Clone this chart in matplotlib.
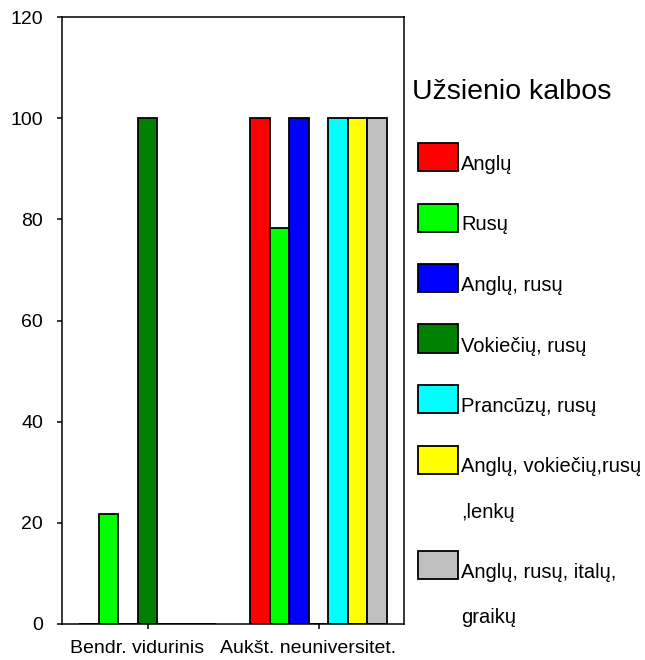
import matplotlib
matplotlib.use("Agg")
import matplotlib.pyplot as plt
import matplotlib.transforms as mtransforms
from matplotlib.patches import Rectangle
import numpy as np

plt.rcParams["font.family"] = ["Liberation Sans", "DejaVu Sans"]

# data
categories = ["Bendr. vidurinis", "Aukšt. neuniversitet."]
series_names = [
    "Anglų",
    "Rusų",
    "Anglų, rusų",
    "Vokiečių, rusų",
    "Prancūzų, rusų",
    "Anglų, vokiečių,rusų\n,lenkų",
    "Anglų, rusų, italų,\ngraikų",
]
series_values = [
    [0, 100],
    [21.7, 78.3],
    [0, 100],
    [100, 0],
    [0, 100],
    [0, 100],
    [0, 100],
]
series_colors = ["#FF0000", "#00FF00", "#0000FF", "#008000",
                 "#00FFFF", "#FFFF00", "#C0C0C0"]
y_ticks = [0, 20, 40, 60, 80, 100, 120]
legend_title = "Užsienio kalbos"

W, H = 645, 660
fig = plt.figure(figsize=(W / 100, H / 100), dpi=100)
ax = fig.add_axes([62 / W, 1 - 624 / H, (404 - 62) / W, (624 - 17) / H])

n = len(series_names)
group_w = 0.8
bw = group_w / n
x = np.arange(len(categories))
for i, (vals, col) in enumerate(zip(series_values, series_colors)):
    ax.bar(x + (i - (n - 1) / 2) * bw, vals, bw, color=col,
           edgecolor="black", linewidth=1.3)

ax.set_xlim(-0.5, len(categories) - 0.5)
ax.set_ylim(0, 120)
ax.set_yticks(y_ticks)
ax.set_xticks(x)
ax.set_xticklabels(categories)
ax.tick_params(axis="both", labelsize=14, length=3.6, width=1.1, direction="out")
ax.tick_params(axis="y", pad=10)
ax.tick_params(axis="x", pad=8)
# the original labels sit slightly left of their tick
shift = mtransforms.ScaledTranslation(-10 / 100, 0, fig.dpi_scale_trans)
for lbl in ax.get_xticklabels():
    lbl.set_transform(lbl.get_transform() + shift)
for sp in ax.spines.values():
    sp.set_linewidth(1.1)

# legend drawn by hand, outside the axes on the right
fig.text(412 / W, 1 - 99 / H, legend_title, fontsize=20.5, ha="left", va="baseline")
top = 143
line_gap = 45
for name, col in zip(series_names, series_colors):
    lines = name.split("\n")
    fig.patches.append(Rectangle((418 / W, 1 - (top + 28) / H), 40 / W, 28 / H,
                                 transform=fig.transFigure, facecolor=col,
                                 edgecolor="black", linewidth=1.3))
    for k, ln in enumerate(lines):
        fig.text(461 / W, 1 - (top + 27 + k * line_gap) / H, ln, fontsize=14.5,
                 ha="left", va="baseline")
    top += 60.5 + line_gap * (len(lines) - 1)

fig.savefig("out.png", dpi=100)
